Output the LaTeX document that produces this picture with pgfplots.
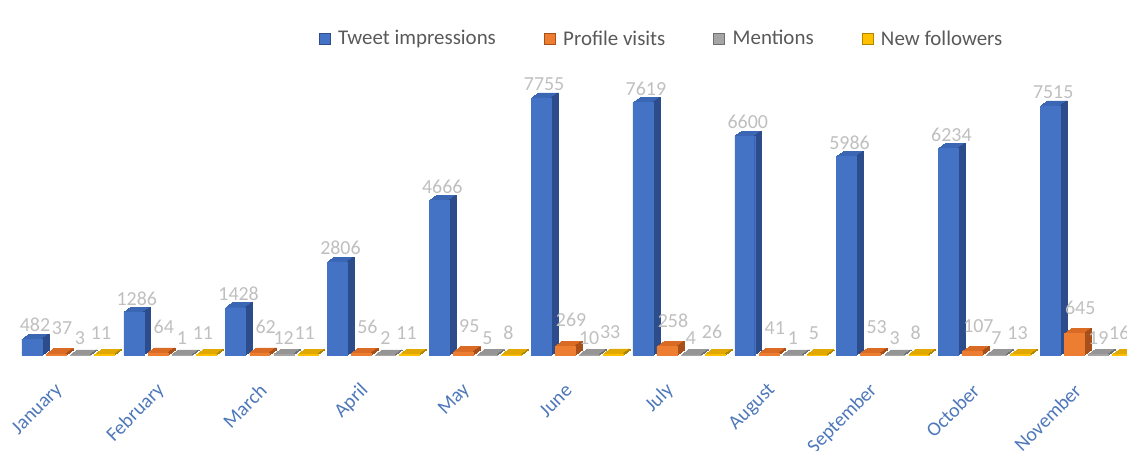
\documentclass[border=0pt]{standalone}
\usepackage{fontspec}
\setmainfont{Carlito}
\usepackage{pgfplots}
\usepackage{pgfplotstable}
\pgfplotsset{compat=1.18}

\definecolor{bF}{HTML}{4472C4}\definecolor{bT}{HTML}{3B66B4}\definecolor{bS}{HTML}{2C4C8C}
\definecolor{oF}{HTML}{ED7D31}\definecolor{oT}{HTML}{D96B24}\definecolor{oS}{HTML}{A9501A}
\definecolor{gF}{HTML}{A5A5A5}\definecolor{gT}{HTML}{959595}\definecolor{gS}{HTML}{707070}
\definecolor{yF}{HTML}{FFC000}\definecolor{yT}{HTML}{E0A800}\definecolor{yS}{HTML}{B08600}
\definecolor{lblgray}{HTML}{BFBFBF}
\definecolor{legtext}{HTML}{595959}
\definecolor{monthblue}{RGB}{78,120,186}

\pgfplotstableread{
x ti pv me nf
0 482 37 3 11
1 1286 64 1 11
2 1428 62 12 11
3 2806 56 2 11
4 4666 95 5 8
5 7755 269 10 33
6 7619 258 4 26
7 6600 41 1 5
8 5986 53 3 8
9 6234 107 7 13
10 7515 645 19 16
}\data

% #1 column, #2 front, #3 top, #4 side, #5 centre offset, #6 right-edge offset, #7 label options
\newcommand{\threedbars}[7]{%
  \pgfplotsinvokeforeach{1,2,3,4,5,6,7}{%
    \addplot[ybar, bar width=0.196, bar shift=0pt, fill=#3, draw=#3, line width=0.8bp, forget plot,
      xshift=##1bp, yshift={##1*0.71bp}] table[x expr=\thisrow{x}+#5,y=#1]{\data};
  }%
  \pgfplotsinvokeforeach{1,2,3,4,5,6,7}{%
    \addplot[ybar, bar width=1bp, bar shift=0pt, fill=#4, draw=#4, line width=0.6bp, forget plot,
      xshift={##1*1bp-0.5bp}, yshift={##1*0.71bp}] table[x expr=\thisrow{x}+#6,y=#1]{\data};
  }%
  \addplot[ybar, bar width=0.196, bar shift=0pt, fill=#2, draw=#2, line width=0.3bp,
    nodes near coords,
    every node near coord/.append style={font=\fontsize{20}{22}\selectfont, text=lblgray, anchor=south, inner sep=1bp, #7},
    legend image code/.code={\draw[fill=#2,draw=#4] (0bp,-5.5bp) rectangle (11bp,5.5bp); \path (17bp,0bp);}]
    table[x expr=\thisrow{x}+#5,y=#1]{\data};
}

\begin{document}
\begin{tikzpicture}
\path[use as bounding box] (0,0) rectangle (1127bp,451bp);
\clip (0,0) rectangle (1127bp,451bp);
\begin{axis}[
  at={(0bp,96bp)}, anchor=south west,
  scale only axis, width=1127bp, height=298.3bp,
  xmin=-0.668, xmax=10.40, ymin=0, ymax=9000,
  clip=false,
  axis line style={draw=none}, tick style={draw=none},
  major tick length=0pt,
  ytick=\empty,
  xtick={0,...,10},
  xticklabels={January,February,March,April,May,June,July,August,September,October,November},
  xticklabel style={xshift=-6bp, yshift=-30bp, rotate=45, anchor=east, font=\fontsize{20}{22}\selectfont, text=monthblue},
  /pgf/number format/assume math mode=true,
  /pgf/number format/1000 sep={},
  legend style={at={(0.587,1)}, anchor=south, yshift=6bp, draw=none, fill=none,
    font=\fontsize{21}{24}\selectfont, text=legtext, legend columns=4,
    /tikz/every even column/.append style={column sep=46bp}},
  legend cell align=left,
]
\threedbars{ti}{bF}{bT}{bS}{-0.354}{-0.256}{yshift=6bp, xshift=3bp}
\addlegendentry{Tweet impressions}
\threedbars{pv}{oF}{oT}{oS}{-0.118}{-0.020}{yshift=18bp, xshift=6bp}
\addlegendentry{Profile visits}
\threedbars{me}{gF}{gT}{gS}{0.118}{0.216}{yshift=9bp, xshift=0bp}
\addlegendentry{Mentions}
\threedbars{nf}{yF}{yT}{yS}{0.354}{0.452}{yshift=14bp, xshift=-3bp}
\addlegendentry{New followers}
\end{axis}
\end{tikzpicture}
\end{document}
